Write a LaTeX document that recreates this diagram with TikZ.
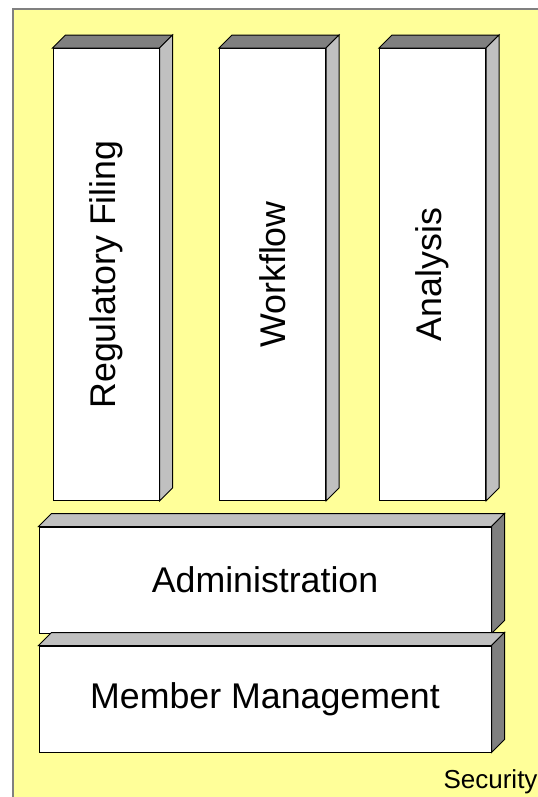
\documentclass[tikz,border=0pt]{standalone}
\usepackage{fontspec}
\setmainfont{Liberation Sans}
\usetikzlibrary{calc}
\definecolor{paleyellow}{HTML}{FFFF99}
\definecolor{darkface}{HTML}{808080}
\definecolor{lightface}{HTML}{C0C0C0}
% top and side faces of a block, drawn from its front node
\newcommand\blockfaces[3]{%
  \draw[fill=#2] (#1.north west) -- ++(13,-13) -- ($(#1.north east)+(13,-13)$) -- (#1.north east) -- cycle;
  \draw[fill=#3] (#1.north east) -- ++(13,-13) -- ($(#1.south east)+(13,-13)$) -- (#1.south east) -- cycle;}
\begin{document}
\begin{tikzpicture}[x=0.75pt,y=-0.75pt,line width=0.75pt,
  frontface/.style={draw, fill=white, inner sep=0pt, font=\fontsize{26.8}{30}\selectfont},
  column/.style={frontface, minimum width=79.5pt, minimum height=339pt},
  bar/.style={frontface, minimum width=339pt, minimum height=79.5pt}]
\useasboundingbox (0,0) rectangle (537,797);
\draw[fill=paleyellow, draw=darkface, line width=1.1pt] (13,9) rectangle (560,820);
\node[font=\fontsize{19.5}{23}\selectfont, anchor=east, inner sep=0pt] (security) at (538,782) {Security};

\node[column] (filing) at (106,274.5) {\rotatebox{90}{Regulatory Filing}};
\node[column] (workflow) at (272.5,274.5) {\rotatebox{90}{Workflow}};
\node[column] (analysis) at (432.5,274.5) {\rotatebox{90}{Analysis}};
\blockfaces{filing}{darkface}{lightface}
\blockfaces{workflow}{darkface}{lightface}
\blockfaces{analysis}{darkface}{lightface}

\node[bar] (admin) at (265,580) {Administration};
\node[bar] (members) at (265,699) {Member Management};
\blockfaces{admin}{lightface}{darkface}
\blockfaces{members}{lightface}{darkface}
\end{tikzpicture}
\end{document}
